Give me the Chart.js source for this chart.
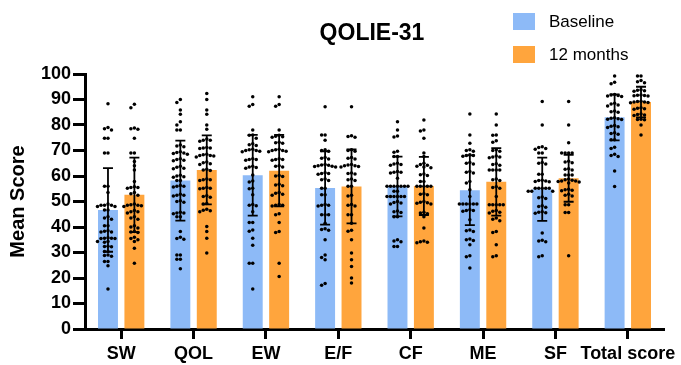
<!DOCTYPE html>
<html>
<head>
<meta charset="utf-8">
<script src="https://cdn.jsdelivr.net/npm/chart.js@4.4.0/dist/chart.umd.min.js"></script>
<style>
  html, body { margin: 0; padding: 0; background: #fff; }
  #wrap { position: relative; width: 681px; height: 365px; }
</style>
</head>
<body>
<div id="wrap"><canvas id="chart"></canvas></div>
<script>
const categories = ['SW', 'QOL', 'EW', 'E/F', 'CF', 'ME', 'SF', 'Total score'];
const seriesNames = ['Baseline', '12 months'];

const baselineMean = [46.7, 58.2, 60.3, 55.3, 55.9, 54.4, 54.8, 83.0];
const monthsMean   = [52.6, 62.4, 62.1, 55.9, 56.1, 57.7, 59.1, 89.0];
const baselineSD   = [16.4, 15.7, 15.8, 14.4, 11.7, 13.7, 12.4, 9.0];
const monthsSD     = [14.6, 13.5, 14.0, 14.5, 11.4, 13.2, 9.2, 6.0];

// individual scores, one list per bar
const dotsBaseline = [
  [88.3, 79, 78.5, 78, 74.8, 74.8, 69, 69, 56, 56, 53.5, 49, 48.5, 48.5, 48.5, 48, 48, 46.7, 46.7, 44, 43.5, 43, 40.5, 40.5, 38.5, 38.3, 38, 38, 35.8, 35.6, 35.6, 35.5, 35.5, 34.3, 34.3, 34, 32.5, 32.4, 32.3, 30.4, 30.4, 29, 28.8, 28.5, 26.5, 26.5, 24.8, 15.7],
  [90, 88.8, 85.9, 84.2, 81.3, 80, 78, 78, 72.2, 71.8, 71.5, 69.5, 69.2, 69, 68.8, 68.5, 66.8, 66.5, 66.2, 66, 63.8, 63.4, 63, 62.8, 60.3, 60, 59.7, 59.5, 58.2, 58.2, 56.3, 56, 56, 55.7, 52.8, 52.5, 52.5, 52.2, 50.3, 50, 49.7, 45.8, 45.5, 45.5, 45.2, 44, 44, 38.2, 36, 35.5, 35.2, 29, 29, 27.4, 27.4, 23.6],
  [91.1, 88, 87.4, 78, 76.1, 76, 74.8, 72.6, 72.3, 72, 70.5, 70.3, 70, 70, 69.7, 69.5, 66.8, 66.5, 66.5, 66.2, 63.8, 63.5, 63.3, 63, 60.4, 58, 57.6, 55.2, 55, 52.6, 48.8, 48.5, 48.3, 46, 41.8, 41.8, 38.8, 38.3, 35.6, 32.8, 25.8, 25.8, 15.7],
  [87.2, 76.1, 76.1, 74, 70.3, 70, 69.7, 67.3, 67, 66.7, 64.5, 64.3, 64.2, 64, 63.8, 63.7, 63.5, 61.3, 61, 61, 60.7, 58.8, 58.5, 58.2, 55.2, 55.2, 52.6, 52.6, 48.8, 48.5, 48.5, 48.2, 44.8, 44.8, 44.8, 41.5, 39.3, 39, 38.7, 35, 29, 28, 27.2, 17.8, 17.2],
  [81.3, 78, 75.7, 75.3, 69.7, 69.3, 67.6, 67.6, 65, 64.7, 64.5, 64.2, 61.8, 61.5, 61.5, 61.2, 59.1, 56, 56, 56, 56, 56, 56, 56, 54, 54, 52, 52, 52, 52, 52, 52, 50, 49.6, 49.4, 49, 46.3, 46, 45.7, 44, 44, 35, 34.5, 34.2, 32.4, 32.4],
  [84.3, 76.1, 72.8, 70.3, 70, 69.7, 68.3, 68, 68, 67.7, 65.3, 65, 64.7, 61.8, 61.5, 61.2, 57.8, 57.3, 54.6, 52, 49, 49, 49, 49, 49, 49, 46.8, 46.5, 46.5, 46.2, 42.8, 38.8, 38.5, 38.2, 35.3, 35, 34.7, 33, 28.7, 28.3, 23.9],
  [89.2, 80, 71.5, 71.2, 70.8, 70.5, 69, 69, 65.3, 65, 64.7, 60.7, 60.7, 58.3, 58.2, 58, 57.8, 57.7, 55.2, 55.2, 55.2, 55.2, 55.2, 54, 54, 54, 51.8, 51.5, 51.2, 48.3, 48, 47.7, 46, 45.8, 45.6, 45.4, 37.6, 34.8, 34.5, 34.2, 28.7, 28.3],
  [99.2, 96.8, 96.2, 92, 91.8, 91.6, 91.4, 91.2, 88.5, 88.2, 87.8, 87.5, 85.5, 85.2, 85, 82.8, 82.6, 82.5, 82.3, 82.2, 79.8, 79.5, 79.3, 79, 77, 76.7, 76.4, 74.2, 74.2, 71.3, 70.8, 68.5, 68, 67.6, 62, 55.9]
];
const dotsMonths = [
  [88.1, 86.8, 78.8, 78.5, 78.3, 74.8, 69, 69, 65.7, 64, 62.4, 57.8, 55.8, 55.5, 55.5, 55.2, 53.5, 53, 52.5, 49, 48.7, 48.5, 48.5, 48.3, 48, 46.5, 46, 46, 45.5, 44, 43.5, 43, 40.5, 40, 39.6, 38.2, 38, 37.8, 36, 35.5, 35, 34.3, 31.7, 25.8],
  [92.4, 90, 85.9, 84.2, 80, 78.3, 74.5, 74, 74, 73.6, 71.2, 71, 71, 70.8, 68.5, 68.3, 68, 68, 67.8, 67.5, 65.5, 65.2, 64.8, 64.5, 62.6, 62.4, 62.2, 58.8, 58.5, 58.5, 58.2, 55.5, 55.2, 55.2, 55, 52.3, 52, 51.7, 49.2, 49, 47, 46.6, 46.4, 46, 40.2, 38.2, 35.6, 29.8],
  [91.1, 88, 87.4, 78, 76, 75.6, 75.4, 75.2, 73.2, 73, 72.8, 70.5, 70.3, 70, 70, 69.7, 69.5, 66.8, 66.5, 66.5, 66.2, 64, 63.8, 63.5, 60.2, 60, 59.8, 56.8, 56.5, 56.2, 53.5, 53.2, 52.8, 52.5, 48.8, 48.5, 48.5, 48.2, 45.2, 44.8, 41.8, 38.2, 37.8, 25.8, 20.6],
  [87.2, 75.8, 75.5, 75.2, 70.3, 70, 69.7, 67.3, 67, 66.7, 64.5, 64.3, 64, 64, 63.7, 63.5, 61.2, 61, 60.8, 58.8, 58.5, 58.2, 56, 56, 52.5, 52.2, 48.8, 48.5, 48.2, 44.8, 44.8, 41.5, 38.7, 38.3, 35, 29.8, 27.2, 24.5, 20, 18],
  [82, 78, 77.6, 74.8, 69, 67.6, 65, 64.5, 64.2, 63.8, 63.5, 63.2, 60.8, 60.5, 60.2, 57.8, 57.8, 56, 56, 56, 56, 56, 53, 52.8, 52.6, 50, 49.7, 49.5, 49.3, 49, 45.8, 45.5, 45.2, 44, 39.6, 34.5, 34.2, 34, 33.8],
  [84.3, 80, 76.1, 76, 73.8, 73.2, 70.3, 70, 69.7, 67.8, 67.5, 67.5, 67.2, 64.8, 64.5, 64.2, 62.4, 62.4, 62.4, 62.4, 58.8, 58.5, 58.2, 55.8, 55.5, 55.2, 52, 48.7, 48.7, 48.7, 48.7, 48.7, 46.5, 46.2, 45.8, 45.5, 43.5, 43, 42.5, 38.2, 37.8, 33, 28.7, 28.3],
  [89.2, 80, 73, 69, 69, 69, 69, 65.8, 65.5, 65.2, 62.8, 62.6, 62.4, 60.4, 60.4, 60.4, 58.8, 58.5, 58.3, 58, 58, 57.8, 57.6, 57.3, 54.8, 54.6, 54.4, 54.2, 52.8, 52.5, 52.2, 48.7, 48.7, 45.7, 45.7, 28.7],
  [99.2, 99.2, 97.5, 97, 96.6, 93.8, 93.6, 93.4, 93.2, 91.8, 91.7, 91.6, 91.5, 91.4, 89.3, 89.2, 89, 89, 88.8, 88.7, 86.8, 86.6, 86.4, 86.2, 84.3, 84.1, 83.9, 83.7, 82.3, 82.2, 82.1, 80, 76.1]
];

const BLUE = '#8DBAF7';
const ORANGE = '#FFA53D';

Chart.defaults.font.family = 'Arial, "Liberation Sans", Helvetica, sans-serif';
Chart.defaults.color = '#000';

// simple beeswarm: push dots sideways until they don't overlap
function swarm(ys, step, minDist) {
  const placed = [];
  return ys.map(y => {
    for (let k = 0; k < 60; k++) {
      const off = (k % 2 === 0 ? 1 : -1) * Math.ceil(k / 2) * step;
      if (placed.every(p => Math.hypot(p.x - off, p.y - y) >= minDist)) {
        placed.push({ x: off, y });
        return off;
      }
    }
    return 0;
  });
}

const overlay = {
  id: 'overlay',
  afterDatasetsDraw(chart) {
    const { ctx } = chart;
    const y = chart.scales.y;
    const sets = [[baselineMean, baselineSD, dotsBaseline], [monthsMean, monthsSD, dotsMonths]];
    sets.forEach((set, di) => {
      const meta = chart.getDatasetMeta(di);
      meta.data.forEach((bar, j) => {
        const cx = bar.x;
        const yt = y.getPixelForValue(set[0][j] + set[1][j]);
        const yb = y.getPixelForValue(set[0][j] - set[1][j]);
        ctx.save();
        ctx.strokeStyle = '#000';
        ctx.lineWidth = 1.8;
        ctx.beginPath();
        ctx.moveTo(cx, yt); ctx.lineTo(cx, yb);
        ctx.moveTo(cx - 5, yt); ctx.lineTo(cx + 5, yt);
        ctx.moveTo(cx - 5, yb); ctx.lineTo(cx + 5, yb);
        ctx.stroke();

        const ys = set[2][j].map(v => y.getPixelForValue(v)).sort((a, b) => a - b);
        const offs = swarm(ys, 3.5, 3.4);
        ctx.fillStyle = '#000';
        ys.forEach((py, k) => {
          ctx.beginPath();
          ctx.arc(cx + offs[k], py, 1.75, 0, Math.PI * 2);
          ctx.fill();
        });
        ctx.restore();
      });
    });
  },
  afterDraw(chart) {
    const { ctx } = chart;
    ctx.save();
    // title
    ctx.fillStyle = '#000';
    ctx.font = 'bold 23px Arial, "Liberation Sans", sans-serif';
    ctx.textAlign = 'center';
    ctx.textBaseline = 'middle';
    ctx.fillText('QOLIE-31', 372, 34);
    // legend
    const colors = [BLUE, ORANGE];
    ctx.font = '17px Arial, "Liberation Sans", sans-serif';
    ctx.textAlign = 'left';
    seriesNames.forEach((name, i) => {
      const top = 13 + i * 33;
      ctx.fillStyle = colors[i];
      ctx.fillRect(513, top, 22, 17);
      ctx.fillStyle = '#000';
      ctx.fillText(name, 549, top + 9);
    });
    ctx.restore();
  }
};

const tickGrid = (len) => ({
  display: true,
  drawOnChartArea: false,
  drawTicks: true,
  tickLength: len,
  tickWidth: 3,
  tickColor: '#000',
  offset: false
});

new Chart(document.getElementById('chart'), {
  type: 'bar',
  data: {
    labels: categories,
    datasets: [
      { label: seriesNames[0], data: baselineMean, backgroundColor: BLUE, categoryPercentage: 0.73, barPercentage: 0.755 },
      { label: seriesNames[1], data: monthsMean, backgroundColor: ORANGE, categoryPercentage: 0.73, barPercentage: 0.755 }
    ]
  },
  options: {
    responsive: true,
    maintainAspectRatio: false,
    animation: false,
    layout: { padding: { top: 74, right: 17, bottom: 0, left: 0 } },
    plugins: { legend: { display: false }, tooltip: { enabled: false } },
    scales: {
      x: {
        grid: tickGrid(10),
        border: { display: true, color: '#000', width: 3 },
        ticks: { color: '#000', font: { size: 18, weight: 'bold' }, padding: 4, maxRotation: 0, autoSkip: false },
        afterFit(s) { s.height = 36; }
      },
      y: {
        min: 0,
        max: 100,
        grid: tickGrid(12),
        border: { display: true, color: '#000', width: 3 },
        ticks: { stepSize: 10, color: '#000', font: { size: 18, weight: 'bold' }, padding: 2 },
        title: { display: true, text: 'Mean Score', color: '#000', font: { size: 20, weight: 'bold' }, padding: { top: 6, bottom: 0 } },
        afterFit(s) { s.width = 85; }
      }
    }
  },
  plugins: [overlay]
});
</script>
</body>
</html>
